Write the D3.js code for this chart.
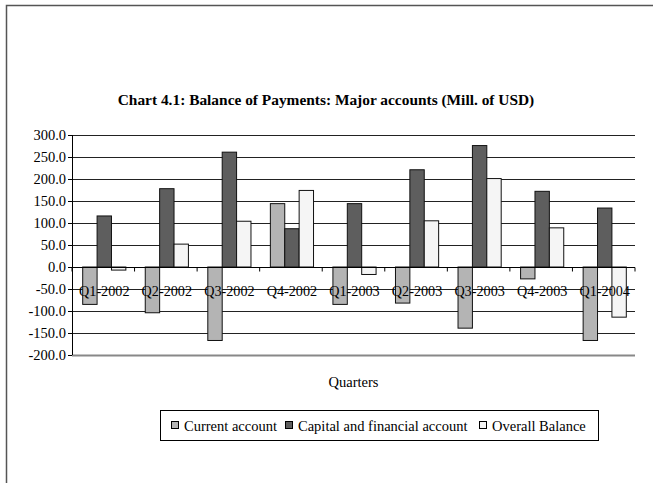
<!DOCTYPE html>
<html>
<head>
<meta charset="utf-8">
<script src="https://cdn.jsdelivr.net/npm/d3@7"></script>
<style>
  body { margin: 0; background: #fff; }
  svg { display: block; font-family: "Liberation Serif", "Times New Roman", serif; }
</style>
</head>
<body>
<svg id="chart"></svg>
<script>
// chart data
const quarters = ["Q1-2002", "Q2-2002", "Q3-2002", "Q4-2002", "Q1-2003", "Q2-2003", "Q3-2003", "Q4-2003", "Q1-2004"];
const seriesNames = ["Current account", "Capital and financial account", "Overall Balance"];
const currentAccount = [-85, -104, -167, 144, -85, -82, -139, -27, -167];
const capitalAccount = [116, 178, 261, 87, 144, 221, 276, 172, 134];
const overallBalance = [-7, 52, 104, 174, -17, 105, 201, 89, -114];
const yTicks = [300, 250, 200, 150, 100, 50, 0, -50, -100, -150, -200];

const colors = ["#b4b4b4", "#5e5e5e", "#f5f5f5"];
const width = 653, height = 483;
const plot = {left: 72, right: 635, top: 135, bottom: 355};

const svg = d3.select("#chart").attr("width", width).attr("height", height);

// outer frame (partly cut off)
svg.append("path")
  .attr("d", `M6.5,${height} V5.5 H${width}`)
  .attr("fill", "none")
  .attr("stroke", "#555")
  .attr("stroke-width", 1.5);

svg.append("text")
  .attr("x", 326).attr("y", 105)
  .attr("text-anchor", "middle")
  .attr("font-weight", "bold")
  .attr("font-size", 15.4)
  .text("Chart 4.1: Balance of Payments: Major accounts (Mill. of USD)");

var y = d3.scaleLinear().domain([-200, 300]).range([plot.bottom, plot.top]);
var x0 = d3.scaleBand().domain(quarters).range([plot.left, plot.right]).paddingInner(0).paddingOuter(0);
var groupPad = x0.bandwidth() * 0.31;
var x1 = d3.scaleBand().domain(seriesNames).range([groupPad / 2 + 1, x0.bandwidth() - groupPad / 2 + 1]);

// gridlines
svg.append("g")
  .selectAll("line")
  .data(yTicks.filter(d => d !== 0))
  .join("line")
  .attr("x1", plot.left).attr("x2", plot.right)
  .attr("y1", d => Math.round(y(d)) + 0.5).attr("y2", d => Math.round(y(d)) + 0.5)
  .attr("stroke", d => d === -200 ? "#888" : "#222")
  .attr("stroke-width", d => d === -200 ? 2 : 1);

// y axis labels
svg.append("g")
  .selectAll("text")
  .data(yTicks)
  .join("text")
  .attr("x", 66)
  .attr("y", d => y(d) + 5)
  .attr("text-anchor", "end")
  .attr("font-size", 14.5)
  .text(d => d3.format(".1f")(d).replace("−", "-"));

// y tick marks
svg.append("g")
  .selectAll("line")
  .data(yTicks)
  .join("line")
  .attr("x1", plot.left - 4).attr("x2", plot.left)
  .attr("y1", d => Math.round(y(d)) + 0.5).attr("y2", d => Math.round(y(d)) + 0.5)
  .attr("stroke", "#000");

// bars
const allSeries = [currentAccount, capitalAccount, overallBalance];
const barData = [];
quarters.forEach((q, i) => {
  seriesNames.forEach((s, j) => {
    barData.push({q: q, s: s, v: allSeries[j][i], c: colors[j]});
  });
});

svg.append("g")
  .selectAll("rect")
  .data(barData)
  .join("rect")
  .attr("x", d => x0(d.q) + x1(d.s))
  .attr("width", x1.bandwidth())
  .attr("y", d => y(Math.max(0, d.v)))
  .attr("height", d => Math.abs(y(d.v) - y(0)))
  .attr("fill", d => d.c)
  .attr("stroke", "#111")
  .attr("stroke-width", 1);

// zero line with category ticks
const zeroY = Math.round(y(0)) + 0.5;
svg.append("line")
  .attr("x1", plot.left).attr("x2", plot.right)
  .attr("y1", zeroY).attr("y2", zeroY)
  .attr("stroke", "#000");
svg.append("g")
  .selectAll("line")
  .data(quarters.concat(["end"]))
  .join("line")
  .attr("x1", (d, i) => x0.range()[0] + i * x0.step())
  .attr("x2", (d, i) => x0.range()[0] + i * x0.step())
  .attr("y1", zeroY).attr("y2", zeroY + 4)
  .attr("stroke", "#000");

// y axis line
svg.append("line")
  .attr("x1", plot.left + 0.5).attr("x2", plot.left + 0.5)
  .attr("y1", plot.top).attr("y2", plot.bottom)
  .attr("stroke", "#000");

// category labels
svg.append("g")
  .selectAll("text")
  .data(quarters)
  .join("text")
  .attr("x", d => x0(d) + x0.bandwidth() / 2 + 1)
  .attr("y", zeroY + 28)
  .attr("text-anchor", "middle")
  .attr("font-size", 14.2)
  .text(d => d);

svg.append("text")
  .attr("x", (plot.left + plot.right) / 2)
  .attr("y", 387)
  .attr("text-anchor", "middle")
  .attr("font-size", 14.5)
  .text("Quarters");

// legend
const legend = svg.append("g");
legend.append("rect")
  .attr("x", 160.5).attr("y", 410.5)
  .attr("width", 438).attr("height", 30)
  .attr("fill", "#fff")
  .attr("stroke", "#000");

const legendX = [171, 285, 479];
seriesNames.forEach((s, j) => {
  legend.append("rect")
    .attr("x", legendX[j] + 0.5).attr("y", 421.5)
    .attr("width", 7).attr("height", 7)
    .attr("fill", colors[j])
    .attr("stroke", "#000");
  legend.append("text")
    .attr("x", legendX[j] + 13).attr("y", 430.5)
    .attr("font-size", 14.5)
    .text(s);
});
</script>
</body>
</html>
